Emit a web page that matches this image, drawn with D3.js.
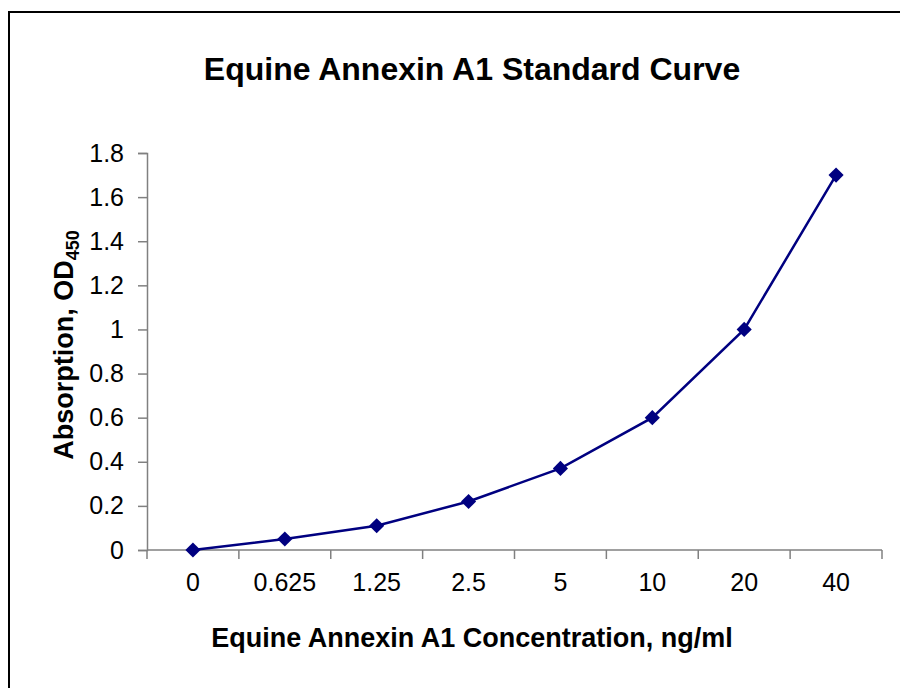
<!DOCTYPE html>
<html>
<head>
<meta charset="utf-8">
<script src="https://cdnjs.cloudflare.com/ajax/libs/d3/7.8.5/d3.min.js"></script>
<style>
  body { margin: 0; background: #fff; }
  text { font-family: "Liberation Sans", Arial, sans-serif; }
</style>
</head>
<body>
<div id="chart"></div>
<script>
var concentrations = ['0', '0.625', '1.25', '2.5', '5', '10', '20', '40'];
var absorbance = [0, 0.05, 0.11, 0.22, 0.37, 0.6, 1.0, 1.7];
var yTicks = [0, 0.2, 0.4, 0.6, 0.8, 1, 1.2, 1.4, 1.6, 1.8];

var width = 900, height = 688;
var plot = { left: 147, right: 882, top: 153, bottom: 550 };

var svg = d3.select('#chart').append('svg')
  .attr('width', width)
  .attr('height', height);

svg.append('rect')
  .attr('x', 9).attr('y', 12)
  .attr('width', 910).attr('height', 700)
  .attr('fill', '#fff')
  .attr('stroke', '#000')
  .attr('stroke-width', 2);

var x = d3.scaleBand()
  .domain(concentrations)
  .range([plot.left, plot.right]);

var y = d3.scaleLinear()
  .domain([0, 1.8])
  .range([plot.bottom, plot.top]);

// y axis
var yAxis = svg.append('g')
  .attr('transform', 'translate(' + plot.left + ',0)')
  .call(d3.axisLeft(y).tickValues(yTicks).tickSize(9).tickPadding(14)
    .tickFormat(function(d) { return d3.format('~g')(d); }));
yAxis.select('.domain').attr('stroke', '#808080').attr('stroke-width', 1.5);
yAxis.selectAll('.tick line').attr('stroke', '#808080').attr('stroke-width', 1.5);
yAxis.selectAll('.tick text')
  .attr('font-size', 25)
  .attr('fill', '#000')
  .style('font-family', '"Liberation Sans", Arial, sans-serif');

// x axis with ticks at category boundaries
var xAxisG = svg.append('g')
  .attr('transform', 'translate(0,' + plot.bottom + ')');
xAxisG.append('line')
  .attr('x1', plot.left).attr('x2', plot.right)
  .attr('stroke', '#808080').attr('stroke-width', 1.5);
var boundaries = concentrations.map(function(c) { return x(c); }).concat([plot.right]);
xAxisG.selectAll('line.tick').data(boundaries)
  .enter().append('line')
  .attr('class', 'tick')
  .attr('x1', function(d) { return d; })
  .attr('x2', function(d) { return d; })
  .attr('y1', 0).attr('y2', 9)
  .attr('stroke', '#808080').attr('stroke-width', 1.5);
xAxisG.selectAll('text').data(concentrations)
  .enter().append('text')
  .attr('x', function(d) { return x(d) + x.bandwidth() / 2; })
  .attr('y', 41)
  .attr('text-anchor', 'middle')
  .attr('font-size', 25)
  .text(function(d) { return d; });

// line + markers
var line = d3.line()
  .x(function(d, i) { return x(concentrations[i]) + x.bandwidth() / 2; })
  .y(function(d) { return y(d); });

svg.append('path')
  .datum(absorbance)
  .attr('d', line)
  .attr('fill', 'none')
  .attr('stroke', '#000080')
  .attr('stroke-width', 2.5);

svg.selectAll('path.marker').data(absorbance)
  .enter().append('path')
  .attr('class', 'marker')
  .attr('d', d3.symbol(d3.symbolSquare, 115))
  .attr('transform', function(d, i) {
    return 'translate(' + (x(concentrations[i]) + x.bandwidth() / 2) + ',' + y(d) + ') rotate(45)';
  })
  .attr('fill', '#000080');

// title
svg.append('text')
  .attr('x', 472).attr('y', 80)
  .attr('text-anchor', 'middle')
  .attr('font-size', 32)
  .attr('font-weight', 'bold')
  .text('Equine Annexin A1 Standard Curve');

// x label
svg.append('text')
  .attr('x', 472).attr('y', 647)
  .attr('text-anchor', 'middle')
  .attr('font-size', 27)
  .attr('font-weight', 'bold')
  .text('Equine Annexin A1 Concentration, ng/ml');

// y label
var yl = svg.append('text')
  .attr('transform', 'translate(73,345) rotate(-90)')
  .attr('text-anchor', 'middle')
  .attr('font-size', 27)
  .attr('font-weight', 'bold');
yl.append('tspan').text('Absorption, OD');
yl.append('tspan').attr('font-size', 18).attr('dy', 6).text('450');
</script>
</body>
</html>
